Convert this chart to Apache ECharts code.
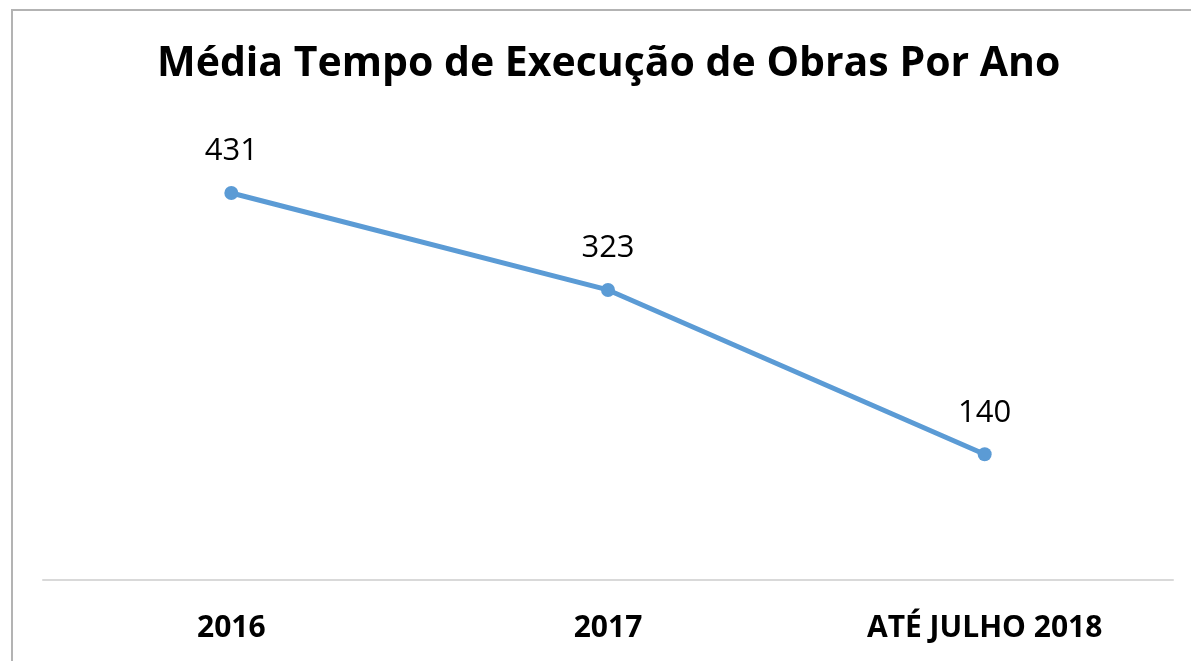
<!DOCTYPE html>
<html>
<head>
<meta charset="utf-8">
<script src="https://cdn.jsdelivr.net/npm/echarts@6/dist/echarts.min.js"></script>
<style>
  html, body { margin: 0; padding: 0; background: #fff; }
  #frame {
    position: absolute; left: 11px; top: 9px; width: 1180px; height: 652px;
    border-left: 2px solid #b3b3b3; border-top: 2px solid #b3b3b3;
    box-sizing: border-box;
  }
  #chart { position: absolute; left: 0; top: 0; width: 1191px; height: 661px; }
</style>
</head>
<body>
<div id="frame"></div>
<div id="chart"></div>
<script>
const categories = ['2016', '2017', 'ATÉ JULHO 2018']
const mediaDias = [431, 323, 140]

const chart = echarts.init(document.getElementById('chart'))

chart.setOption({
  backgroundColor: 'transparent',
  title: {
    text: 'Média Tempo de Execução de Obras Por Ano',
    left: 152,
    top: 39,
    textStyle: { fontFamily: 'Open Sans', fontWeight: 'bold', fontSize: 41, color: '#000' },
  },
  grid: { left: 43, right: 18, top: 131, bottom: 81 },
  xAxis: {
    type: 'category',
    data: categories,
    boundaryGap: true,
    axisLine: { lineStyle: { color: '#d9d9d9', width: 2 } },
    axisTick: { show: false },
    axisLabel: {
      margin: 33,
      fontFamily: 'Open Sans',
      fontWeight: 'bold',
      fontSize: 30,
      color: '#000',
    },
  },
  yAxis: {
    type: 'value',
    min: 0,
    max: 500,
    show: false,
    splitLine: { show: false },
  },
  series: [{
    type: 'line',
    data: mediaDias,
    symbol: 'circle',
    symbolSize: 14,
    lineStyle: { color: '#5b9bd5', width: 5 },
    itemStyle: { color: '#5b9bd5' },
    label: {
      show: true,
      position: 'top',
      distance: 19,
      fontFamily: 'Open Sans',
      fontSize: 31,
      color: '#000',
    },
  }],
})
</script>
</body>
</html>
